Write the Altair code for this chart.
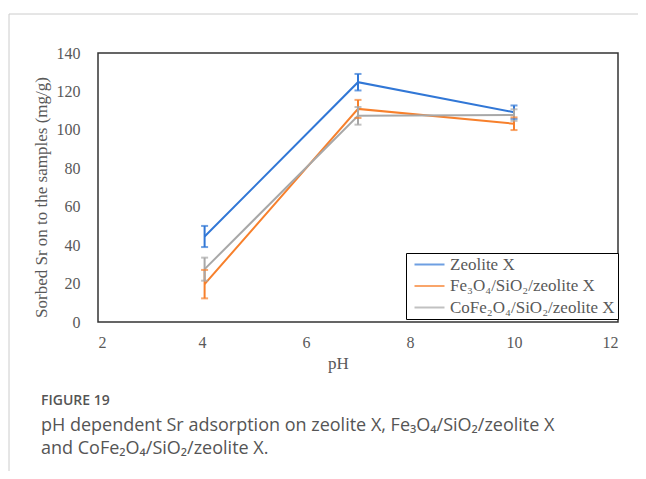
import altair as alt
import pandas as pd

# ---- data ----
ph = [4.05, 7.0, 10.0]
series = ["Zeolite X", "Fe₃O₄/SiO₂/zeolite X", "CoFe₂O₄/SiO₂/zeolite X"]
zeolite = [44.5, 124.8, 109.2]
zeolite_err = [5.5, 4.3, 3.5]
fe3o4 = [19.7, 110.9, 103.2]
fe3o4_err = [7.4, 4.7, 3.3]
cofe2o4 = [27.5, 107.3, 107.7]
cofe2o4_err = [6.0, 4.6, 3.0]
colors = ["#3177D6", "#F7802C", "#A8A8A8"]
x_ticks = [2, 4, 6, 8, 10, 12]
y_ticks = [0, 20, 40, 60, 80, 100, 120, 140]

rows = []
for name, vals, errs in zip(series, [zeolite, fe3o4, cofe2o4],
                            [zeolite_err, fe3o4_err, cofe2o4_err]):
    for p, v, e in zip(ph, vals, errs):
        rows.append({"series": name, "pH": p, "value": v,
                     "lo": v - e, "hi": v + e})
df = pd.DataFrame(rows)

SERIF = "Liberation Serif"
SANS = "Open Sans, Noto Sans"
GRAY = "#595959"

legend = alt.Legend(
    title=None, orient="none", legendX=308, legendY=200,
    strokeColor="black", fillColor="white", padding=3, rowPadding=3.5,
    symbolType="M-0.6,0L5.4,0", symbolSize=100, symbolStrokeWidth=2,
    labelOffset=24, labelFont=SERIF, labelFontSize=17, labelColor=GRAY,
    labelLimit=400,
)
color = alt.Color("series:N", scale=alt.Scale(domain=series, range=colors),
                  legend=legend, sort=series)

x_scale = alt.Scale(domain=[2, 12], nice=False)
y_scale = alt.Scale(domain=[0, 140], nice=False)
x_axis = alt.Axis(values=x_ticks, title="pH", grid=False, ticks=False,
                  domain=False, labelFont=SERIF, labelFontSize=16,
                  labelColor=GRAY, labelPadding=12, labelOverlap=False,
                  titleFont=SERIF, titleFontSize=17, titleFontWeight="normal",
                  titleColor=GRAY, titleX=240, titleY=41,
                  titleBaseline="middle")
y_axis = alt.Axis(values=y_ticks, title="Sorbed Sr on to the samples (mg/g)",
                  grid=False, ticks=False, domain=False, labelFont=SERIF,
                  labelFontSize=16, labelColor=GRAY, labelPadding=18,
                  labelOverlap=False, labelBound=False,
                  titleFont=SERIF, titleFontSize=17,
                  titleFontWeight="normal", titleColor=GRAY,
                  titleAngle=270, titleX=-57, titleY=144,
                  titleBaseline="middle", titleAlign="center")


def X(field):
    return alt.X(field, scale=x_scale, axis=x_axis)


def Y(field):
    return alt.Y(field, scale=y_scale, axis=y_axis)


base = alt.Chart(df)
lines = base.mark_line(strokeWidth=2).encode(x=X("pH:Q"), y=Y("value:Q"), color=color)
bars = base.mark_rule(strokeWidth=2).encode(x=X("pH:Q"), y=Y("lo:Q"), y2="hi:Q", color=color)
cap_lo = base.mark_tick(orient="horizontal", size=7, thickness=2).encode(
    x=X("pH:Q"), y=Y("lo:Q"), color=color)
cap_hi = base.mark_tick(orient="horizontal", size=7, thickness=2).encode(
    x=X("pH:Q"), y=Y("hi:Q"), color=color)

# caption and card frame
fig_label = alt.Chart(pd.DataFrame({"t": ["FIGURE 19"]})).mark_text(
    align="left", baseline="middle", font=SANS, fontSize=14, fontWeight=600,
    color="#555555").encode(x=alt.value(-57), y=alt.value(348), text="t:N")
cap1 = alt.Chart(pd.DataFrame({"t": ["pH dependent Sr adsorption on zeolite X, Fe₃O₄/SiO₂/zeolite X"]})).mark_text(
    align="left", baseline="middle", font=SANS, fontSize=18,
    color="#555555").encode(x=alt.value(-57), y=alt.value(373), text="t:N")
cap2 = alt.Chart(pd.DataFrame({"t": ["and CoFe₂O₄/SiO₂/zeolite X."]})).mark_text(
    align="left", baseline="middle", font=SANS, fontSize=18,
    color="#555555").encode(x=alt.value(-57), y=alt.value(396), text="t:N")
frame_top = alt.Chart(pd.DataFrame({"a": [0]})).mark_rule(
    color="#cccccc", strokeWidth=1).encode(x=alt.value(-89), x2=alt.value(560), y=alt.value(-39))
frame_left = alt.Chart(pd.DataFrame({"a": [0]})).mark_rule(
    color="#cccccc", strokeWidth=1).encode(x=alt.value(-89), y=alt.value(-39), y2=alt.value(430))

chart = alt.layer(
    frame_top, frame_left, lines, bars, cap_lo, cap_hi, fig_label, cap1, cap2
).properties(
    width=520, height=269,
    autosize=alt.AutoSizeParams(type="none"),
    padding={"left": 90, "top": 45, "right": 20, "bottom": 149},
    background="white",
).configure_view(stroke="#333333", strokeWidth=1.5)

chart.save("out.html", embed_options={"renderer": "svg", "actions": False})
